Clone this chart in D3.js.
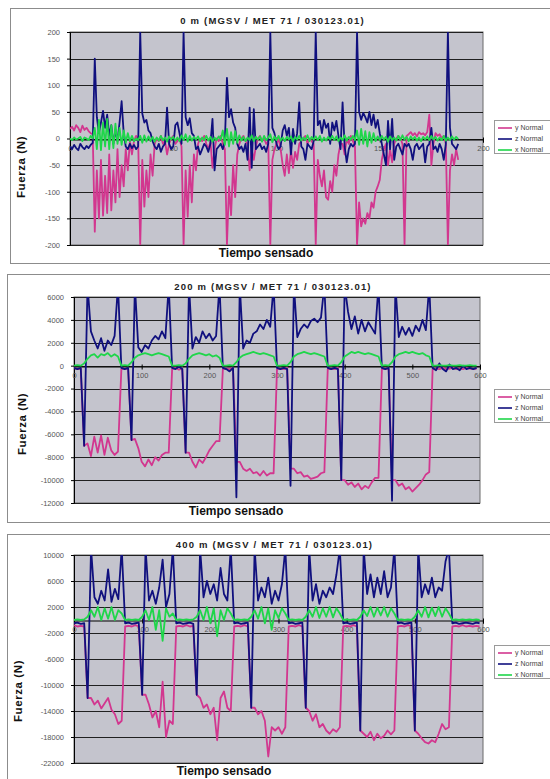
<!DOCTYPE html>
<html><head><meta charset="utf-8">
<script src="https://cdnjs.cloudflare.com/ajax/libs/d3/7.8.5/d3.min.js"></script>
<style>body{margin:0;background:#fff}svg{display:block}</style>
</head><body><svg id="c" width="550" height="779"></svg>
<script>
// ---------- DATA ----------
const seriesNames = ["y Normal", "z Normal", "x Normal"];
const xTitle = "Tiempo sensado";
const yTitle = "Fuerza (N)";

// Chart 1: 0 m
const c1Title = "0 m (MGSV / MET 71 / 030123.01)";
const c1Step = 1;
const c1YTicks = [200, 150, 100, 50, 0, -50, -100, -150, -200];
const c1XTicks = [0, 50, 100, 150, 200];
const c1Y = [
 18,22,15,25,20,12,24,16,20,14,
 10,8,-175,-60,-150,-40,-145,-70,-140,-30,
 -135,-60,-120,-20,-110,-50,-90,-20,-60,-5,
 -30,-5,5,0,-200,-40,-128,-60,-110,-30,
 -70,-10,0,-5,5,-10,-5,-30,-10,0,
 5,-10,-5,0,-15,-200,-60,-147,-50,-120,
 -30,-60,-10,0,-5,5,-10,-20,-5,-55,
 -20,0,-5,5,-10,-20,-200,-90,-144,-50,
 -110,-30,-10,0,5,-5,-10,-60,-20,-40,
 -15,0,5,-5,0,-10,-5,-200,-40,-20,
 -10,0,-20,-50,-70,-30,-65,-20,-55,-25,
 -40,-10,-5,0,5,-10,0,-5,-10,-200,
 -40,-70,-90,-60,-110,-115,-80,-100,-50,-70,
 -30,-10,-10,-30,0,-10,5,-5,-15,-200,
 -120,-165,-150,-160,-140,-150,-120,-130,-100,-90,
 -78,-40,-20,-10,-50,-20,-45,-10,0,5,
 0,-10,-200,5,8,12,6,10,4,12,
 8,10,6,12,45,-50,-10,10,5,8,
 0,5,-10,-200,-60,-30,-50,-20,-40
];
const c1Z = [
 -15,-20,-12,-18,-22,-10,-16,-20,-14,-18,
 -12,-8,150,40,10,30,52,20,45,5,
 25,-10,15,-5,30,70,10,-15,-20,-10,
 -18,-12,-20,-15,200,47,30,35,15,10,
 -5,-15,-20,-10,-25,-15,-10,58,-10,-20,
 -15,25,30,10,-10,200,40,25,38,10,
 5,-20,-15,-30,-20,-10,-15,-25,-10,37,
 -60,-20,-15,-10,-20,-5,114,40,55,30,
 20,-10,-20,-15,-25,-10,-40,58,-55,55,
 -20,-15,-10,-20,-15,-25,-10,200,20,10,
 -10,-20,-15,15,25,5,20,-30,18,-10,
 10,68,-15,-20,-40,-10,-15,-20,-5,200,
 25,33,10,35,20,28,-10,30,15,33,
 5,-20,68,-15,-45,-20,-10,-15,-10,200,
 50,35,48,40,30,50,25,45,20,35,
 10,-10,-30,-50,33,-20,37,-40,-15,-10,
 -20,-30,-10,-15,-10,-20,-40,-15,-10,-20,
 -15,-10,-45,-15,-10,20,-20,-15,-25,-10,
 -20,-40,-10,200,20,-10,-15,-20,-10
];
const c1X = [
 0,-3,2,-2,0,3,-5,2,0,-3,
 5,0,20,-20,35,-22,30,-15,37,-20,
 25,-18,28,-10,20,-12,15,-8,10,-5,
 5,-5,0,-3,5,-8,6,-6,4,-5,
 3,-6,2,-4,5,-3,2,-6,4,-2,
 3,-4,2,-5,6,-3,8,-6,5,-4,
 3,-2,4,-5,2,-3,5,-4,3,-6,
 2,-3,4,-2,15,-12,18,-15,12,-10,
 14,-8,6,-4,3,-5,2,-3,6,-5,
 3,-2,4,-6,5,-3,2,8,-7,4,
 -3,5,-4,2,-5,3,-2,4,-6,3,
 -2,5,-4,2,-3,6,-5,3,-2,4,
 -3,5,-6,2,-4,3,-2,5,-3,4,
 -5,2,-3,6,-4,3,-2,5,-3,15,
 -12,18,-10,14,-15,12,-8,10,-5,4,
 -3,5,-2,3,-6,4,-3,2,-4,5,
 -3,6,-2,3,-5,4,-2,3,-4,2,
 -5,3,-2,4,-3,5,-2,3,-4,2,
 -3,5,-4,2,-3,4,-2,3,-1
];

// Chart 2: 200 m
const c2Title = "200 m (MGSV / MET 71 / 030123.01)";
const c2Step = 5;
const c2YTicks = [6000, 4000, 2000, 0, -2000, -4000, -6000, -8000, -10000, -12000];
const c2XTicks = [0, 100, 200, 300, 400, 500, 600];
const c2Y = [
 -200,-300,-250, -7000,-6800,
 -7900,-6200,-7600,-6100,-7800,-6300,-7400,-7800, -7500,-300,
 -250,-300, -6500,-6400,
 -7200,-8400,-8800,-8200,-8700,-8000,-8300,-7800,-7600, -7600,-300,
 -200,-350,-250, -7600,-7600,
 -8400,-8900,-8200,-8500,-8000,-7400,-7000,-6600, -6600,-300,
 -250,-300,-200, -8400,-8400,
 -9000,-9200,-9000,-9400,-9300,-9600,-9200,-9600,-9400, -9400,-300,
 -250,-300,-200, -9000,-9000,
 -9400,-9300,-9700,-9600,-9900,-9800,-9700,-9400, -9300,-300,
 -250,-300,-200, -10000,-10000,
 -10400,-10200,-10600,-10300,-10800,-10500,-10700,-10200,-9800, -9800,-300,
 -250,-300, -10000,-10000,
 -10500,-10300,-10800,-10600,-11000,-10700,-10400,-10000,-9500, -9300,-300,
 -250,-300,-200,-300,-250,-200,-300,-250,-300,-200,-250,-300,-250
];
const c2Z = [
 -200,-300,-200, -7000,7000,
 3000,2200,1500,2400,1300,2200,1800,2600, 7000,-200,
 -300,-200, -6500,7000,
 1600,1200,1800,1500,2200,2600,2300,3000,2400, 7000,-200,
 -300,-100,-300, -7600,7000,
 1500,2500,2000,3000,2400,2800,2200,2600, 7000,-200,
 -300,-500,-200, -11500,7000,
 1500,2200,2000,2800,3000,3600,3200,4000,3400, 7000,-200,
 -300,-200,-300, -10500,7000,
 2500,3200,3600,3300,3900,4100,3800,4200, 7000,-200,
 -300,-200,-300, -10000,7000,
 4700,3200,4300,2800,4000,3000,3800,3300,2800, 7000,-200,
 -300,-200, -11800,7000,
 2500,3400,2700,3300,2600,3500,3000,4000,3100, 7000,-200,
 -400,200,-300,-500,100,-300,-200,-400,0,-300,-200,-300,-200
];
const c2X = [
 0,50,0, 200,600,
 900,1000,700,1000,900,1100,800,1000, 800,0,
 50,0, 300,700,
 900,1000,1100,1000,900,1000,1100,1000,900, 800,0,
 0,50,0, 200,600,
 900,1000,1100,1000,900,1000,800,900, 700,0,
 0,50,0, 300,700,
 900,1000,1100,1200,1100,1000,1100,1000,900, 800,0,
 0,50,0, 300,800,
 1000,1100,1200,1100,1000,1100,1000,900, 800,0,
 0,50,0, 300,800,
 1000,1200,1100,1200,1100,1000,1100,1000,900, 800,0,
 50,0, 300,800,
 1000,1100,1200,1100,1200,1100,1000,1100,900, 800,0,
 0,50,0,0,50,0,0,50,0,0,50,0,0
];

// Chart 3: 400 m
const c3Title = "400 m (MGSV / MET 71 / 030123.01)";
const c3Step = 5;
const c3YTicks = [10000, 6000, 2000, -2000, -6000, -10000, -14000, -18000, -22000];
const c3XTicks = [0, 100, 200, 300, 400, 500, 600];
const c3Y = [
 -800,-1000,-900,-1000, -12000,-12000,
 -13000,-12400,-13600,-12800,-12000,-13800,-14500,-16000, -15500,-1000,
 -900,-1000,-800,-1000, -11500,-11500,
 -13000,-15000,-14000,-16500,-9500,-18000,-15500, -16000,-1000,
 -900,-1000,-800,-1000,-900, -11500,-12000,
 -13500,-13000,-14500,-13500,-18500,-12000,-11000,-13500, -14000,-1000,
 -900,-1000,-800,-1000, -13500,-13500,
 -14500,-14000,-15500,-21000,-16500,-17000,-16500,-17500, -16500,-1000,
 -900,-1000,-800,-1000, -13500,-14000,
 -15500,-14500,-16500,-16000,-17000,-17500,-16800,-17200, -16500,-1000,
 -900,-1000,-800,-1000, -17000,-17500,
 -18000,-17200,-18500,-17500,-18200,-17800,-17000,-17600, -17000,-1000,
 -900,-1000,-800,-1000, -17000,-17500,
 -18200,-18800,-19000,-18500,-18800,-17500,-16000,-16800, -16500,-1000,
 -900,-1000,-800,-1000,-900,-1000,-900,-1000
];
const c3Z = [
 -500,-400,-600,-500, -12000,11000,
 3500,2500,4500,3000,7800,2800,4800,3200, 11000,-500,
 -400,-600,-500,-400, -11500,11000,
 3000,4500,2500,5000,9300,2000,4000, 11000,-500,
 -400,-600,-500,-400,-600, -11500,11000,
 3500,6000,4000,5500,3000,8000,4000,3000, 11000,-500,
 -400,-600,-500,-400, -13500,11000,
 3000,5000,3500,6500,2500,4500,3000,5500, 11000,-500,
 -400,-600,-500,-400, -13500,11000,
 3000,5500,2500,4500,3500,5000,4000,7000, 11000,-500,
 -400,-600,-500,-400, -17000,11000,
 4000,7000,3500,6500,4000,7500,3500,5000, 11000,-500,
 -400,-600,-500,-400, -17000,11000,
 3500,5500,4000,6500,3500,5000,4500,9000, 11000,-500,
 -400,-600,-500,-400,-500,-600,-400,-500
];
const c3X = [
 0,100,0,100, 500,1500,
 500,2000,0,1800,200,2000,0,1500, 1000,0,
 100,0,100,0, 500,1500,
 0,2000,-1500,1500,-3200,1800,500, 1000,0,
 100,0,100,0,100, 500,1500,
 0,2000,-500,1800,-2500,1500,0,1800, 1000,0,
 100,0,100,0, 500,1500,
 200,2000,-500,1800,-1500,1500,300,1800, 1000,0,
 100,0,100,0, 500,1500,
 500,2000,300,1800,500,2000,400,1800, 1000,0,
 100,0,100,0, 500,1500,
 600,2000,500,1900,700,2000,500,1800, 1000,0,
 100,0,100,0, 500,1500,
 500,2000,400,1900,600,2000,500,1800, 1000,0,
 100,0,100,0,100,0,100,0
];

// ---------- STYLE / LAYOUT ----------
const COLORS = ["#d2378f", "#10107e", "#1fd64a"];
const FONT = "'Liberation Sans', Arial, sans-serif";

const charts = [
  { id: 1, title: c1Title, series: [c1Y, c1Z, c1X], step: c1Step, xDomain: [0, 200], yDomain: [-200, 200],
    yTicks: c1YTicks, xTicks: c1XTicks,
    frame: [10, 8, 548, 255], plot: [70, 32, 413, 213], titleY: 24,
    xTitlePos: [266, 257], yTitlePos: [21, 167], legendY: 128 },
  { id: 2, title: c2Title, series: [c2Y, c2Z, c2X], step: c2Step, xDomain: [0, 600], yDomain: [-12000, 6000],
    yTicks: c2YTicks, xTicks: c2XTicks,
    frame: [7, 274, 551, 248], plot: [74, 297, 406, 206], titleY: 290,
    xTitlePos: [236, 515], yTitlePos: [22, 424], legendY: 397 },
  { id: 3, title: c3Title, series: [c3Y, c3Z, c3X], step: c3Step, xDomain: [0, 600], yDomain: [-22000, 10000],
    yTicks: c3YTicks, xTicks: c3XTicks,
    frame: [7, 534, 551, 250], plot: [74, 555, 409, 208], titleY: 548,
    xTitlePos: [224, 775], yTitlePos: [18, 691], legendY: 653 }
];

const svg = d3.select("#c");

function drawChart(cfg) {
  const g = svg.append("g");
  const [fx, fy, fw, fh] = cfg.frame;
  g.append("rect").attr("x", fx + 0.5).attr("y", fy + 0.5).attr("width", fw).attr("height", fh)
    .attr("fill", "#fff").attr("stroke", "#8c8c8c");

  const [px, py, pw, ph] = cfg.plot;
  const x = d3.scaleLinear().domain(cfg.xDomain).range([px, px + pw]);
  const y = d3.scaleLinear().domain(cfg.yDomain).range([py + ph, py]);

  g.append("rect").attr("x", px).attr("y", py).attr("width", pw).attr("height", ph)
    .attr("fill", "#c4c4cd").attr("stroke", "#6a6a6a");

  // horizontal gridlines
  g.selectAll(null).data(cfg.yTicks).join("line")
    .attr("x1", px).attr("x2", px + pw)
    .attr("y1", d => Math.round(y(d)) + 0.5).attr("y2", d => Math.round(y(d)) + 0.5)
    .attr("stroke", "#202020").attr("stroke-width", 1);

  // y-axis ticks + labels
  const yAxis = d3.axisLeft(y).tickValues(cfg.yTicks).tickSize(3).tickFormat(d => String(d));
  const ya = g.append("g").attr("transform", `translate(${px},0)`).call(yAxis);
  ya.select(".domain").attr("stroke", "#000");
  ya.selectAll(".tick line").attr("stroke", "#000");
  ya.selectAll(".tick text").attr("x", -10).attr("font-family", FONT).attr("font-size", 7.5)
    .attr("fill", "#555");

  // x-axis at zero
  const y0 = Math.round(y(0)) + 0.5;
  const xAxis = d3.axisBottom(x).tickValues(cfg.xTicks).tickSize(3).tickFormat(d => String(d));
  const xa = g.append("g").attr("transform", `translate(0,${y0})`).call(xAxis);
  xa.select(".domain").attr("stroke", "#000");
  xa.selectAll(".tick line").attr("stroke", "#000").attr("y1", -2);
  xa.selectAll(".tick text").attr("y", 6).attr("font-family", FONT).attr("font-size", 7.5)
    .attr("fill", "#555");

  // clip
  const cid = "clip" + cfg.id;
  svg.append("defs").append("clipPath").attr("id", cid).append("rect")
    .attr("x", px).attr("y", py).attr("width", pw).attr("height", ph);

  const line = d3.line().x((d, i) => x(i * cfg.step)).y(d => y(d));
  const lg = g.append("g").attr("clip-path", `url(#${cid})`);
  cfg.series.forEach((vals, k) => {
    lg.append("path").datum(vals).attr("d", line).attr("fill", "none")
      .attr("stroke", COLORS[k]).attr("stroke-width", 1.8).attr("stroke-linejoin", "round");
  });

  // title
  g.append("text").attr("x", (px + px + pw) / 2 - 4).attr("y", cfg.titleY)
    .attr("text-anchor", "middle").attr("font-family", FONT).attr("font-weight", "bold")
    .attr("font-size", 9.5).attr("letter-spacing", 1.2).attr("fill", "#222").text(cfg.title);

  // axis titles
  g.append("text").attr("x", cfg.xTitlePos[0]).attr("y", cfg.xTitlePos[1])
    .attr("text-anchor", "middle").attr("font-family", FONT).attr("font-weight", "bold")
    .attr("font-size", 12).attr("fill", "#111").text(xTitle);
  g.append("text").attr("transform", `translate(${cfg.yTitlePos[0]},${cfg.yTitlePos[1]}) rotate(-90)`)
    .attr("text-anchor", "middle").attr("dy", "0.35em").attr("font-family", FONT).attr("font-weight", "bold")
    .attr("font-size", 11.5).attr("letter-spacing", 0.6).attr("fill", "#111").text(yTitle);

  // legend
  const lgY = cfg.legendY;
  g.append("rect").attr("x", 494.5).attr("y", lgY - 7.5).attr("width", 70).attr("height", 33)
    .attr("fill", "#fff").attr("stroke", "#9a9a9a");
  seriesNames.forEach((nm, k) => {
    const yy = lgY + k * 11;
    g.append("line").attr("x1", 498).attr("x2", 512).attr("y1", yy).attr("y2", yy)
      .attr("stroke", COLORS[k]).attr("stroke-width", 1.6);
    g.append("text").attr("x", 515).attr("y", yy).attr("dy", "0.35em").attr("font-family", FONT)
      .attr("font-size", 7).attr("fill", "#444").text(nm);
  });
}

charts.forEach(drawChart);
</script>
</body></html>
